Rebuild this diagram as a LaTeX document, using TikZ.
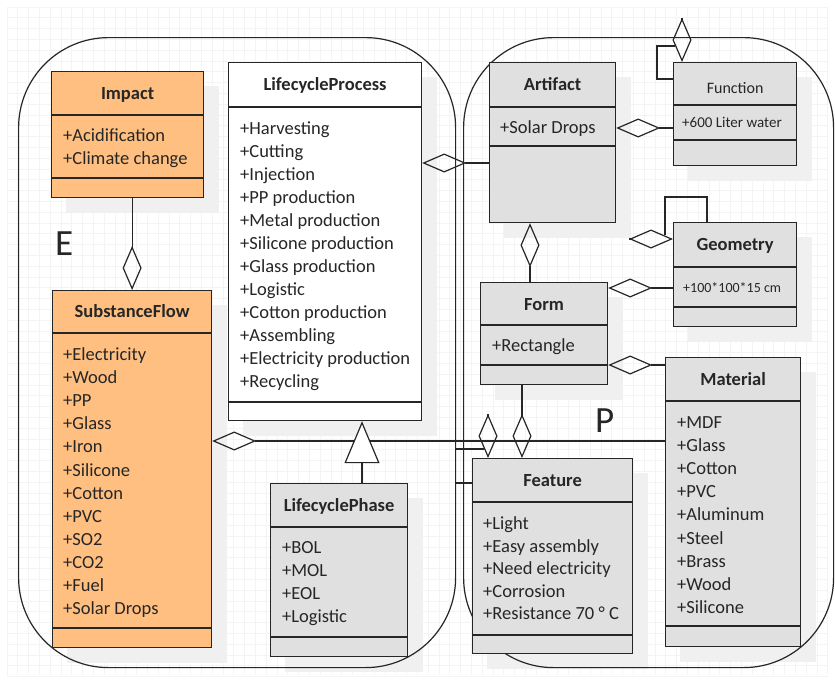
\documentclass[tikz,border=0pt]{standalone}
\usepackage{fontspec}
\setmainfont{Carlito}
\usetikzlibrary{arrows.meta, calc}

\pgfdeclarelayer{bg}
\pgfsetlayers{bg,main}

\definecolor{floworange}{HTML}{FFBF80}
\definecolor{classgray}{HTML}{E0E0E0}
\definecolor{shadowgray}{HTML}{F0F0F0}
\definecolor{gridgray}{HTML}{F4F4F4}
\definecolor{linegray}{HTML}{262626}

\begin{document}
\begin{tikzpicture}[x=1pt, y=-1pt,
    umlline/.style={draw=linegray, line width=1.2pt},
    umlbox/.style={umlline, anchor=north west, inner sep=0pt},
    container/.style={umlline, anchor=north west, inner sep=0pt, rounded corners=90pt},
    umltitle/.style={anchor=base, inner sep=0pt, text=linegray, font=\bfseries\fontsize{18.5}{22}\selectfont},
    umlattr/.style={anchor=base west, inner sep=0pt, text=linegray, font=\fontsize{18.5}{22}\selectfont},
    smallattr/.style={umlattr, font=\fontsize{15}{18}\selectfont},
    aggr/.style={umlline, -{Diamond[open, length=44pt, width=19pt]}},
    inherit/.style={umlline, -{Triangle[fill=white, length=42pt, width=35pt]}},
    bigletter/.style={anchor=base west, inner sep=0pt, text=linegray, font=\fontsize{37}{40}\selectfont}]

    % Background grid
    \begin{pgfonlayer}{bg}
        \fill[white] (0,0) rectangle (835,681);
        \foreach \i in {0,...,76}
            \draw[gridgray, line width=0.8pt] (7+\i*10.8,7) -- (7+\i*10.8,675);
        \foreach \i in {0,...,62}
            \draw[gridgray, line width=0.8pt] (7,7+\i*10.8) -- (828,7+\i*10.8);
    \end{pgfonlayer}
    \useasboundingbox (0,0) rectangle (835,681);

    % Containers
    \node[container, minimum width=437, minimum height=630] (E) at (18,37) {};
    \node[container, minimum width=370, minimum height=630] (P) at (463,37) {};
    \node[bigletter] (E-label) at (55,255) {E};
    \node[bigletter] (P-label) at (595,432) {P};

    % Impact
    \node[umlbox, fill=floworange, minimum width=152, minimum height=126] (impact) at (51,71) {};
    \node[umltitle] (impact-t) at ($(impact.north)+(0,28.5)$) {Impact};
    \foreach \a [count=\i from 0] in {+Acidification, +Climate change}
        \node[umlattr] (impact-a\i) at ($(impact.north west)+(12,70.5+\i*22.5)$) {\a};

    % SubstanceFlow
    \node[umlbox, fill=floworange, minimum width=159, minimum height=357] (flow) at (52,290) {};
    \node[umltitle] (flow-t) at ($(flow.north)+(0,27.5)$) {SubstanceFlow};
    \foreach \a [count=\i from 0] in {+Electricity, +Wood, +PP, +Glass, +Iron, +Silicone, +Cotton, +PVC, +SO2, +CO2, +Fuel, +Solar Drops}
        \node[umlattr] (flow-a\i) at ($(flow.north west)+(11,70.5+\i*23.1)$) {\a};

    % LifecycleProcess
    \node[umlbox, fill=white, minimum width=193, minimum height=358] (process) at (228,62) {};
    \node[umltitle] (process-t) at ($(process.north)+(0,28.5)$) {LifecycleProcess};
    \foreach \a [count=\i from 0] in {+Harvesting, +Cutting, +Injection, +PP production, +Metal production, +Silicone production, +Glass production, +Logistic, +Cotton production, +Assembling, +Electricity production, +Recycling}
        \node[umlattr] (process-a\i) at ($(process.north west)+(12,72+\i*23)$) {\a};

    % LifecyclePhase
    \node[umlbox, fill=classgray, minimum width=137, minimum height=173] (phase) at (270,483) {};
    \node[umltitle] (phase-t) at ($(phase.north)+(0,28.5)$) {LifecyclePhase};
    \foreach \a [count=\i from 0] in {+BOL, +MOL, +EOL, +Logistic}
        \node[umlattr] (phase-a\i) at ($(phase.north west)+(12,70.5+\i*23)$) {\a};

    % Artifact
    \node[umlbox, fill=classgray, minimum width=126, minimum height=160] (artifact) at (489,62) {};
    \node[umltitle] (artifact-t) at ($(artifact.north)+(0,28.5)$) {Artifact};
    \node[umlattr] (artifact-a0) at ($(artifact.north west)+(11,71.5)$) {+Solar Drops};

    % Function
    \node[umlbox, fill=classgray, minimum width=123, minimum height=103] (function) at (673,62) {};
    \node[umltitle, font=\fontsize{16}{19}\selectfont] (function-t) at ($(function.north)+(0,31)$) {Function};
    \node[smallattr] (function-a0) at ($(function.north west)+(9,65)$) {+600 Liter water};

    % Geometry
    \node[umlbox, fill=classgray, minimum width=123, minimum height=104] (geometry) at (673,222) {};
    \node[umltitle] (geometry-t) at ($(geometry.north)+(0,28.5)$) {Geometry};
    \node[smallattr, font=\fontsize{14}{17}\selectfont] (geometry-a0) at ($(geometry.north west)+(10,70.5)$) {+100*100*15 cm};

    % Form
    \node[umlbox, fill=classgray, minimum width=127, minimum height=102] (form) at (480,282) {};
    \node[umltitle] (form-t) at ($(form.north)+(0,28.5)$) {Form};
    \node[umlattr] (form-a0) at ($(form.north west)+(12,69.5)$) {+Rectangle};

    % Material
    \node[umlbox, fill=classgray, minimum width=135, minimum height=289] (material) at (665,357) {};
    \node[umltitle] (material-t) at ($(material.north)+(0,28.5)$) {Material};
    \foreach \a [count=\i from 0] in {+MDF, +Glass, +Cotton, +PVC, +Aluminum, +Steel, +Brass, +Wood, +Silicone}
        \node[umlattr] (material-a\i) at ($(material.north west)+(12,71.5+\i*23.1)$) {\a};

    % Feature
    \node[umlbox, fill=classgray, minimum width=160, minimum height=195] (feature) at (472,458) {};
    \node[umltitle] (feature-t) at ($(feature.north)+(0,28.5)$) {Feature};
    \foreach \a [count=\i from 0] in {+Light, +Easy assembly, +Need electricity, +Corrosion, +Resistance 70 ° C}
        \node[umlattr] (feature-a\i) at ($(feature.north west)+(11,71.5+\i*22.6)$) {\a};

    % Compartment lines
    \foreach \b/\p/\q in {impact/44/107, process/45/340, flow/43/338, phase/44/154, artifact/45/84, function/43/78, geometry/45/85, form/43/83, material/44/269, feature/44/177} {
        \draw[umlline] ($(\b.north west)+(0,\p)$) -- ($(\b.north east)+(0,\p)$);
        \draw[umlline] ($(\b.north west)+(0,\q)$) -- ($(\b.north east)+(0,\q)$);
    }

    % Shadows
    \begin{pgfonlayer}{bg}
        \foreach \b in {impact, flow, process, phase, artifact, function, geometry, form, material, feature}
            \fill[shadowgray] ($(\b.north west)+(15,15)$) rectangle ($(\b.south east)+(15,15)$);
    \end{pgfonlayer}

    % Aggregations
    \draw[aggr] (impact.south -| flow.north) -- (flow.north);
    \draw[aggr] ($(artifact.north west)+(0,101)$) -- ($(process.north east)+(0,101)$);
    \draw[aggr] ($(function.north west)+(0,66)$) -- ($(artifact.north east)+(0,66)$);
    \draw[aggr] ($(form.north west)+(50,0)$) -- ($(artifact.south west)+(41,0)$);
    \draw[aggr] ($(geometry.north west)+(0,66)$) -- ($(form.north east)+(0,6)$);
    \draw[aggr] ($(material.north west)+(0,8)$) -- ($(form.north east)+(0,83)$);
    \draw[aggr] ($(form.south west)+(42,0)$) -- ($(feature.north west)+(50,0)$);
    \draw[aggr] ($(material.north west)+(0,84)$) -- ($(flow.north east)+(0,151)$);

    % Self loops
    \draw[aggr] ($(function.north west)+(9,-44)$) -- ($(function.north west)+(9,0)$);
    \draw[umlline] ($(function.north west)+(0,17)$) -- ++(-16,0) -- ++(0,-33) -- ++(18,0);
    \draw[aggr] ($(geometry.north west)+(-44,17)$) -- ($(geometry.north west)+(0,17)$);
    \draw[umlline] ($(geometry.north west)+(34,0)$) -- ++(0,-25) -- ++(-42,0) -- ++(0,38);

    % Feature links along the border
    \draw[aggr] ($(feature.north west)+(16,-44)$) -- ($(feature.north west)+(16,0)$);
    \coordinate (fa) at ($(feature.north west)+(12,-9)$);
    \draw[umlline] (fa) -- (fa -| E.east);
    \coordinate (fb) at ($(feature.north west)+(0,25)$);
    \draw[umlline] (fb) -- (fb -| E.east);

    % Inheritance
    \draw[inherit] ($(phase.north west)+(92,0)$) -- ($(process.south west)+(134,0)$);
\end{tikzpicture}
\end{document}
